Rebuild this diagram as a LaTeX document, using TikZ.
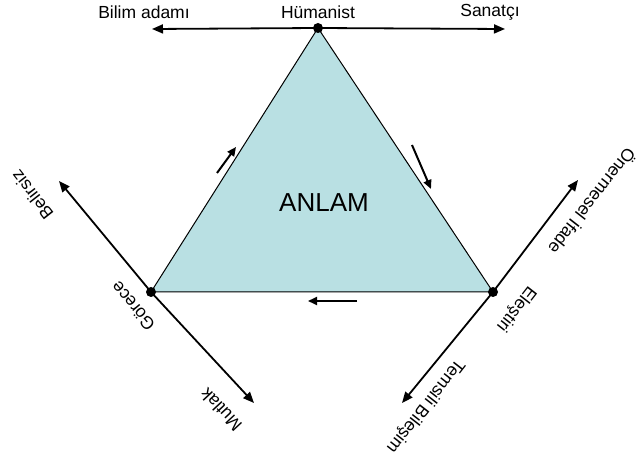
\documentclass[tikz,border=0pt]{standalone}
\usepackage{fontspec}
\setmainfont{Liberation Sans}
\usetikzlibrary{arrows.meta}
\definecolor{tri}{RGB}{185,224,227}
\begin{document}
\begin{tikzpicture}[x=1pt,y=-1pt,
  lbl/.style={inner sep=0pt,font=\fontsize{17.5}{20}\selectfont},
  bigarrow/.style={line width=1.8pt,-{Triangle[length=11pt,width=9pt]}},
  smallarrow/.style={line width=2pt,-{Triangle[length=9pt,width=8pt]}},
  dotnode/.style={circle,fill=black,inner sep=0pt,minimum size=10pt}]
\useasboundingbox (0,0) rectangle (638,462);
% triangle vertices
\coordinate (T) at (318,28);
\coordinate (L) at (151,292);
\coordinate (R) at (493,292);
\filldraw[fill=tri,draw=black,line width=1pt] (T) -- (L) -- (R) -- cycle;
\node[font=\fontsize{26}{30}\selectfont,inner sep=0pt] (anlam) at (324,203) {ANLAM};
% arrow ends
\coordinate (topL) at (152,29);
\coordinate (topR) at (505,29);
\coordinate (bel) at (59,181);
\coordinate (mut) at (254,403);
\coordinate (one) at (578,180);
\coordinate (tem) at (402,403);
\draw[bigarrow] (T) -- (topL);
\draw[bigarrow] (T) -- (topR);
\draw[bigarrow] (L) -- (bel);
\draw[bigarrow] (L) -- (mut);
\draw[bigarrow] (R) -- (one);
\draw[bigarrow] (R) -- (tem);
\node[dotnode] (dT) at (T) {};
\node[dotnode] (dL) at (L) {};
\node[dotnode] (dR) at (R) {};
% small arrows
\coordinate (a1s) at (217,173); \coordinate (a1e) at (236,147);
\coordinate (a2s) at (412,145); \coordinate (a2e) at (431,189);
\coordinate (a3s) at (357,301); \coordinate (a3e) at (308,301);
\draw[smallarrow] (a1s) -- (a1e);
\draw[smallarrow] (a2s) -- (a2e);
\draw[smallarrow] (a3s) -- (a3e);
% labels
\node[lbl] (bilim) at (144,12) {Bilim adamı};
\node[lbl] (hum) at (318,12) {Hümanist};
\node[lbl] (san) at (490,12) {Sanatçı};
\node[lbl,rotate=128] (belirsiz) at (32,195) {Belirsiz};
\node[lbl,rotate=130] (gorece) at (133,306) {Görece};
\node[lbl,rotate=133] (mutlak) at (221,410) {Mutlak};
\node[lbl,rotate=-128] (onerme) at (593,202) {Önermesel İfade};
\node[lbl,rotate=-128] (elestiri) at (516,309) {Eleştiri};
\node[lbl,rotate=-128] (temsili) at (425,406) {Temsili Bileşim};
\end{tikzpicture}
\end{document}
